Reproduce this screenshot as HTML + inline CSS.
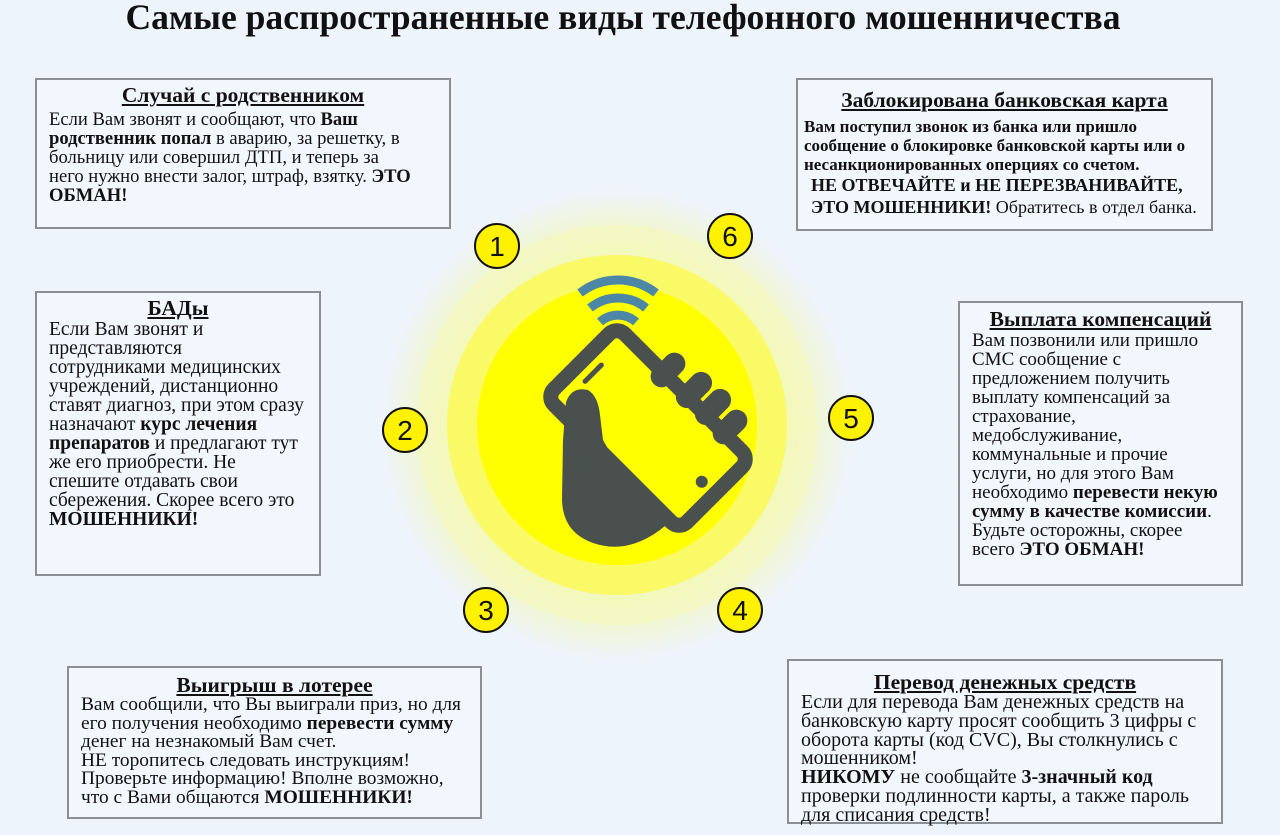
<!DOCTYPE html>
<html><head><meta charset="utf-8"><style>
body{margin:0;width:1280px;height:835px;background:#eef4fb;position:relative;overflow:hidden;font-family:"Liberation Serif","DejaVu Serif",serif;color:#111}
.t{position:absolute;left:0;width:1246px;top:-3px;text-align:center;font-weight:bold;font-size:35.6px;line-height:40px;white-space:nowrap}
.b{position:absolute;border:2px solid #8a8f96;background:#f2f7fd;box-sizing:border-box}
.h{text-align:center;font-weight:bold;font-size:21.5px;line-height:22px;text-decoration:underline;white-space:nowrap}
.p{font-size:18px;line-height:19px;white-space:nowrap}
.n{position:absolute;width:46px;height:46px;border:2px solid #111;border-radius:50%;background:#fff200;box-sizing:border-box;text-align:center;font-family:"Liberation Sans",sans-serif;font-size:28px;line-height:43px}
</style></head><body>
<div class="t">Самые распространенные виды телефонного мошенничества</div>

<svg style="position:absolute;left:0;top:0" width="1280" height="835">
<defs><radialGradient id="g" cx="617" cy="425" r="235" gradientUnits="userSpaceOnUse">
<stop offset="0.6" stop-color="#f7f870"/><stop offset="0.8" stop-color="#f2f6c8"/><stop offset="1" stop-color="#eef4fb"/></radialGradient></defs>
<circle cx="617" cy="425" r="235" fill="url(#g)"/>
<circle cx="617" cy="425" r="200" fill="#f3f7c0" opacity="0.8"/>
<circle cx="617" cy="425" r="170" fill="#fafa66"/>
<circle cx="617" cy="425" r="140" fill="#ffff00"/>
<g fill="none" stroke="#4d87a6" stroke-width="9">
<path d="M580 293 A62 62 0 0 1 656 293"/>
<path d="M590 308 A44 44 0 0 1 646 308"/>
<path d="M600 322 A27 27 0 0 1 636 322"/>
</g>
<g transform="translate(648,428) rotate(-45)">
<rect x="-50" y="-94" width="100" height="188" rx="11" fill="none" stroke="#4a504d" stroke-width="15"/>
<rect x="-14" y="-80" width="28" height="5" rx="2.5" fill="#4a504d"/>
<circle cx="0" cy="76" r="6" fill="#4a504d"/>
</g>
<g fill="#4a504d">
<rect x="648" y="359" width="40" height="22" rx="11" transform="rotate(-45 668 370)"/>
<rect x="673" y="379" width="42" height="22" rx="11" transform="rotate(-45 694 390)"/>
<rect x="692" y="396" width="42" height="22" rx="11" transform="rotate(-45 713 407)"/>
<rect x="710" y="416" width="40" height="22" rx="11" transform="rotate(-45 730 427)"/>
<path d="M566 402 Q572 386 588 390 Q598 396 600 415 L603 440 L612 456 L672 520 L660 530 Q630 552 600 545 Q563 536 562 500 L563 440 Z"/>
</g>
</svg>

<div class="n" style="left:474px;top:223px">1</div>
<div class="n" style="left:707px;top:213px">6</div>
<div class="n" style="left:382px;top:407px">2</div>
<div class="n" style="left:828px;top:395px">5</div>
<div class="n" style="left:463px;top:587px">3</div>
<div class="n" style="left:717px;top:587px">4</div>

<div class="b" style="left:35px;top:78px;width:416px;height:151px;padding:4px 0 0 12px">
<div class="h" style="margin-left:-12px">Случай с родственником</div>
<div class="p" style="margin-top:4px;font-size:18.6px">Если Вам звонят и сообщают, что <b>Ваш</b><br><b>родственник попал</b> в аварию, за решетку, в<br>больницу или совершил ДТП, и теперь за<br>него нужно внести залог, штраф, взятку. <b>ЭТО</b><br><b>ОБМАН!</b></div>
</div>

<div class="b" style="left:796px;top:78px;width:417px;height:153px;padding:9px 0 0 6px">
<div class="h" style="margin-left:-6px">Заблокирована банковская карта</div>
<div style="margin-top:6px;font-size:17px;line-height:19px;font-weight:bold;white-space:nowrap">Вам поступил звонок из банка или пришло<br>сообщение о блокировке банковской карты или о<br>несанкционированных оперциях со счетом.</div>
<div style="font-size:18px;line-height:22px;white-space:nowrap;margin-left:7px"><b>НЕ ОТВЕЧАЙТЕ и НЕ ПЕРЕЗВАНИВАЙТЕ,</b><br><b>ЭТО МОШЕННИКИ!</b> Обратитесь в отдел банка.</div>
</div>

<div class="b" style="left:35px;top:291px;width:286px;height:285px;padding:4px 0 0 12px">
<div class="h" style="margin-left:-12px">БАДы</div>
<div class="p" style="margin-top:1px;font-size:19.5px">Если Вам звонят и<br>представляются<br>сотрудниками медицинских<br>учреждений, дистанционно<br>ставят диагноз, при этом сразу<br>назначают <b>курс лечения</b><br><b>препаратов</b> и предлагают тут<br>же его приобрести. Не<br>спешите отдавать свои<br>сбережения. Скорее всего это<br><b>МОШЕННИКИ!</b></div>
</div>

<div class="b" style="left:958px;top:301px;width:285px;height:285px;padding:5px 0 0 12px">
<div class="h" style="margin-left:-12px">Выплата компенсаций</div>
<div class="p" style="margin-top:1px;font-size:19px">Вам позвонили или пришло<br>СМС сообщение с<br>предложением получить<br>выплату компенсаций за<br>страхование,<br>медобслуживание,<br>коммунальные и прочие<br>услуги, но для этого Вам<br>необходимо <b>перевести некую</b><br><b>сумму в качестве комиссии</b>.<br>Будьте осторожны, скорее<br>всего <b>ЭТО ОБМАН!</b></div>
</div>

<div class="b" style="left:67px;top:666px;width:415px;height:153px;padding:6px 0 0 12px">
<div class="h" style="margin-left:-12px">Выигрыш в лотерее</div>
<div class="p" style="margin-top:0px;line-height:18.6px;font-size:19.4px">Вам сообщили, что Вы выиграли приз, но для<br>его получения необходимо <b>перевести сумму</b><br>денег на незнакомый Вам счет.<br>НЕ торопитесь следовать инструкциям!<br>Проверьте информацию! Вполне возможно,<br>что с Вами общаются <b>МОШЕННИКИ!</b></div>
</div>

<div class="b" style="left:787px;top:659px;width:436px;height:165px;padding:10px 0 0 12px">
<div class="h" style="margin-left:-12px">Перевод денежных средств</div>
<div class="p" style="margin-top:0px;font-size:20px;line-height:18.8px">Если для перевода Вам денежных средств на<br>банковскую карту просят сообщить 3 цифры с<br>оборота карты (код CVC), Вы столкнулись с<br>мошенником!<br><b>НИКОМУ</b> не сообщайте <b>3-значный код</b><br>проверки подлинности карты, а также пароль<br>для списания средств!</div>
</div>
</body></html>
